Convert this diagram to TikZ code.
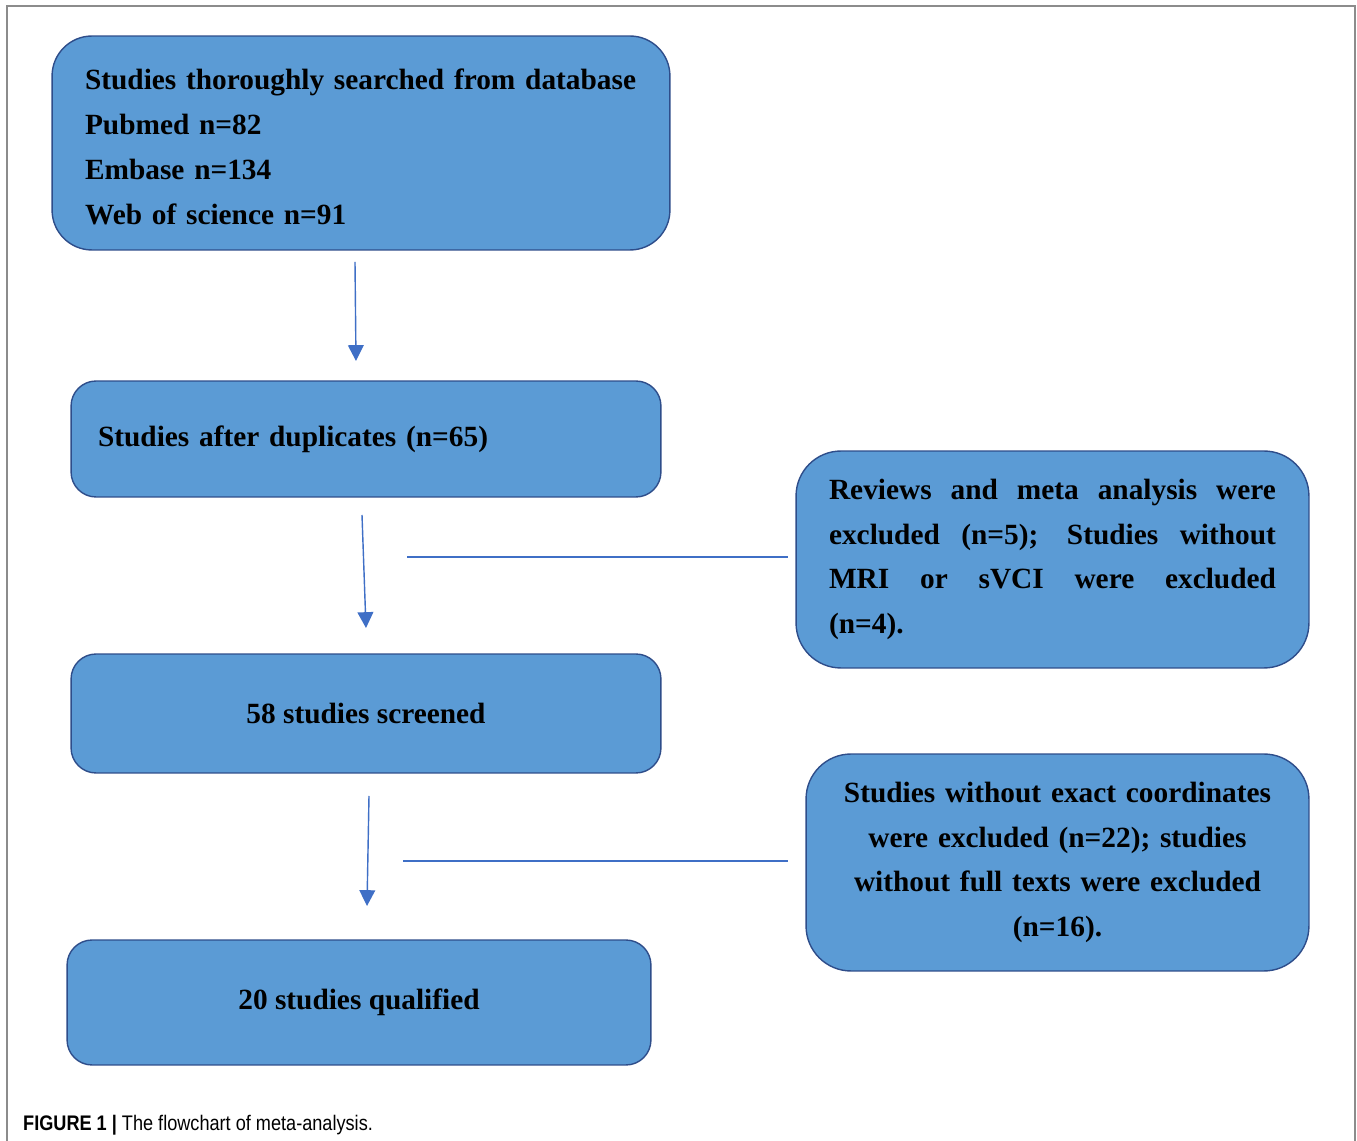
\documentclass[tikz,border=0pt]{standalone}
\usepackage{fontspec}
\setmainfont{Liberation Serif}
\newfontfamily\capfont[FakeStretch=0.86]{Liberation Sans}
\usetikzlibrary{arrows.meta,positioning}
\definecolor{boxblue}{HTML}{5B9BD5}
\definecolor{boxedge}{HTML}{2E4D8A}
\definecolor{arrowblue}{HTML}{3F6FC6}
\definecolor{framegray}{HTML}{8C8C8C}

\begin{document}
\begin{tikzpicture}[x=0.02cm,y=-0.02cm,>={Triangle[width=9pt,length=9pt]},
  box/.style={draw=boxedge,fill=boxblue,line width=0.8pt,inner sep=0pt,
    font=\fontsize{16.7}{25.5}\selectfont\bfseries},
  flow/.style={->,draw=arrowblue,fill=arrowblue,line width=0.8pt},
  link/.style={draw=arrowblue,line width=0.8pt}]
\useasboundingbox (0,0) rectangle (1357,1141);
\draw[framegray,line width=0.6pt] (7,1141) -- (7,6) -- (1355,6) -- (1355,1141);

% main column
\node[box,rounded corners=0.8cm,minimum width=12.36cm,minimum height=4.28cm,
  text width=11.04cm,align=left] (db) at (361,143)
  {\rule{0pt}{16pt}Studies thoroughly searched from database\\Pubmed n=82\\Embase n=134\\Web of science n=91};
\node[box,rounded corners=0.5cm,minimum width=11.8cm,minimum height=2.32cm,
  text width=10.72cm,align=left] (dup) at (366,439) {Studies after duplicates (n=65)};
\node[box,rounded corners=0.5cm,minimum width=11.8cm,minimum height=2.38cm] (scr) at (366,713.5) {58 studies screened};
\node[box,rounded corners=0.5cm,minimum width=11.68cm,minimum height=2.5cm] (qual) at (359,1002.5) {20 studies qualified};

% excluded
\node[box,rounded corners=0.9cm,minimum width=10.26cm,minimum height=4.34cm,
  text width=8.94cm,align=justify] (excl1) at (1052.5,559.5)
  {Reviews and meta analysis were\linebreak excluded (n=5); Studies without\linebreak MRI or sVCI were excluded\linebreak (n=4).};
\node[box,rounded corners=0.9cm,minimum width=10.06cm,minimum height=4.34cm,
  text width=8.94cm,align=center] (excl2) at (1057.5,862.5)
  {Studies without exact coordinates\\were excluded (n=22); studies\\without full texts were excluded\\(n=16).};

\coordinate (a1s) at (355,262);
\coordinate (a1e) at (356,361);
\coordinate (a2s) at (362,515);
\coordinate (a2e) at (366,628);
\coordinate (a3s) at (369,796);
\coordinate (a3e) at (367,906);
\coordinate (h1) at (407,557);
\coordinate (h2) at (403,861);

\draw[flow] (a1s) -- (a1e);
\draw[flow] (a2s) -- (a2e);
\draw[flow] (a3s) -- (a3e);
\draw[link] (h1) -- ([xshift=-0.14cm]h1 -| excl1.west);
\draw[link] (h2) -- ([xshift=-0.34cm]h2 -| excl2.west);

\node[anchor=west,font=\capfont\fontsize{12}{14}\selectfont] (cap) at (17,1125)
  {\textbf{FIGURE 1 |} The flowchart of meta-analysis.};
\end{tikzpicture}
\end{document}
